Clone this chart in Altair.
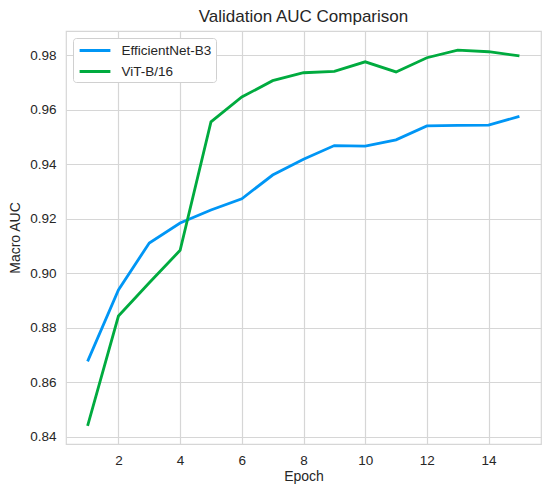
import altair as alt
import pandas as pd

epochs = list(range(1, 16))
effnet = [0.8677, 0.8939, 0.9111, 0.9184, 0.9232, 0.9273, 0.9360, 0.9418, 0.9468, 0.9466,
          0.9489, 0.9540, 0.9542, 0.9543, 0.9575]
vit = [0.8440, 0.8843, 0.8965, 0.9084, 0.9555, 0.9646, 0.9706, 0.9735, 0.9740, 0.9775,
       0.9738, 0.9790, 0.9818, 0.9812, 0.9797]
series_names = ["EfficientNet-B3", "ViT-B/16"]
colors = ["#0096f5", "#00ab3f"]
x_ticks = [2, 4, 6, 8, 10, 12, 14]
y_ticks = [0.84, 0.86, 0.88, 0.90, 0.92, 0.94, 0.96, 0.98]

rows = []
for e, a, b in zip(epochs, effnet, vit):
    rows.append({"Epoch": e, "AUC": a, "Model": series_names[0]})
    rows.append({"Epoch": e, "AUC": b, "Model": series_names[1]})
df = pd.DataFrame(rows)

FONT = "Liberation Sans"

chart = alt.Chart(df).mark_line(strokeWidth=2.8, clip=True).encode(
    x=alt.X("Epoch:Q", scale=alt.Scale(domain=[0.3, 15.7], nice=False, zero=False),
            axis=alt.Axis(values=x_ticks, title="Epoch", format="d")),
    y=alt.Y("AUC:Q", scale=alt.Scale(domain=[0.8374, 0.9888], nice=False, zero=False),
            axis=alt.Axis(values=y_ticks, title="Macro AUC", format=".2f")),
    color=alt.Color("Model:N",
                    scale=alt.Scale(domain=series_names, range=colors),
                    legend=alt.Legend(title=None, orient="none", legendX=7, legendY=7,
                                      symbolType="M-2.2,0H2.2", symbolSize=196,
                                      symbolStrokeWidth=3, symbolOffset=9.5,
                                      labelFontSize=13.5, labelFont=FONT, labelColor="#262626",
                                      labelOffset=18, rowPadding=6,
                                      padding=4, fillColor="white", strokeColor="#d0d0d0",
                                      cornerRadius=3)),
).properties(
    width=475, height=413,
    title=alt.TitleParams("Validation AUC Comparison", font=FONT, fontSize=17,
                          fontWeight="normal", color="#262626", offset=5),
    autosize=alt.AutoSizeParams(type="none"),
    padding={"left": 58, "top": 23, "right": 1, "bottom": 40},
).configure_view(
    stroke="#d6d6d6", strokeWidth=1.2
).configure_axis(
    grid=True, gridColor="#d6d6d6", gridWidth=1.2,
    domain=False, ticks=False,
    labelFont=FONT, labelFontSize=13.5, labelColor="#262626",
    titleFont=FONT, titleFontSize=14, titleFontWeight="normal", titleColor="#262626",
).configure_axisX(
    labelPadding=9, titlePadding=3
).configure_axisY(
    labelPadding=10, titlePadding=7
)

chart.save("out.html", embed_options={"renderer": "svg", "actions": False})
